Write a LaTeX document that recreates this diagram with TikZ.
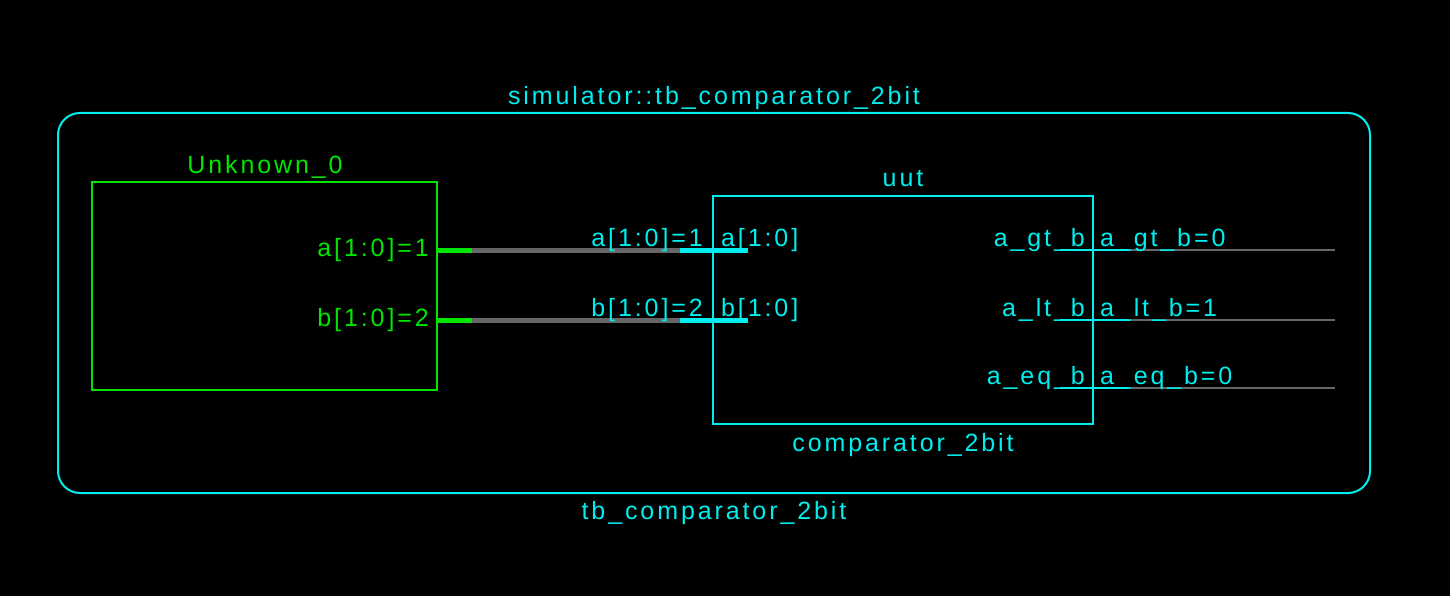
\documentclass[tikz,border=0pt]{standalone}
\usepackage{fontspec}
\setmainfont{Liberation Sans}[LetterSpace=11.6]
\usetikzlibrary{positioning}
\usepackage{xcolor}
\definecolor{simcyan}{RGB}{0,238,238}
\definecolor{simgreen}{RGB}{0,230,0}
\definecolor{wiregray}{RGB}{102,102,102}

\begin{document}
\begin{tikzpicture}[x=1pt,y=-1pt,
	every node/.style={font=\fontsize{25}{30}\selectfont,inner sep=0pt},
	frame/.style={draw=simcyan,line width=2pt,rounded corners=22pt},
	block/.style={draw=#1,line width=2pt},
	cyantxt/.style={text=simcyan},
	greentxt/.style={text=simgreen},
	bus/.style={line width=5pt,#1},
	net/.style={line width=2pt,#1}]
	\fill[black] (0,0) rectangle (1450,596);
	\useasboundingbox (0,0) rectangle (1450,596);
	% testbench
	\node[frame,minimum width=1312pt,minimum height=380pt] (tb) at (714,303) {};
	\node[cyantxt,anchor=base] (tbtitle) at (714,105) {simulator::tb\_comparator\_2bit};
	\node[cyantxt,anchor=base] (tbname) at (714,519) {tb\_comparator\_2bit};
	% stimulus block
	\node[block=simgreen,minimum width=345pt,minimum height=208pt] (unk) at (264.5,286) {};
	\node[greentxt,anchor=base] (unkname) at (265,174) {Unknown\_0};
	% device under test
	\node[block=simcyan,minimum width=380pt,minimum height=228pt] (uut) at (903,310) {};
	\node[cyantxt,anchor=base] (uutname) at (903,187) {uut};
	\node[cyantxt,anchor=base] (uutcell) at (903,451) {comparator\_2bit};
	% inputs
	\foreach \p/\y/\v in {a/250/1, b/320/2} {
		\node[greentxt,anchor=east] (\p out) at (429,\y) {\p[1:0]=\v};
		\coordinate (\p src) at (437,\y);
		\coordinate (\p stub) at (472,\y);
		\coordinate (\p pin) at (680,\y);
		\coordinate (\p end) at (748,\y);
		\draw[bus=simgreen] (\p src) -- (\p stub);
		\draw[bus=wiregray] (\p stub) -- (\p pin);
		\draw[bus=simcyan] (\p pin) -- (\p end);
		\node[cyantxt,anchor=base east] (\p net) at (703,\y-4) {\p[1:0]=\v};
		\node[cyantxt,anchor=base west] (\p in) at (721,\y-4) {\p[1:0]};
	};
	% outputs
	\foreach \s/\y/\v in {gt/250/0, lt/320/1, eq/388/0} {
		\coordinate (\s pin) at (1060,\y);
		\coordinate (\s stub) at (1128,\y);
		\coordinate (\s end) at (1335,\y);
		\draw[net=simcyan] (\s pin) -- (\s stub);
		\draw[net=wiregray] (\s stub) -- (\s end);
		\node[cyantxt,anchor=base east] (\s out) at (1085,\y-4) {a\_\s\_b};
		\node[cyantxt,anchor=base west] (\s net) at (1100,\y-4) {a\_\s\_b=\v};
	};
\end{tikzpicture}
\end{document}
